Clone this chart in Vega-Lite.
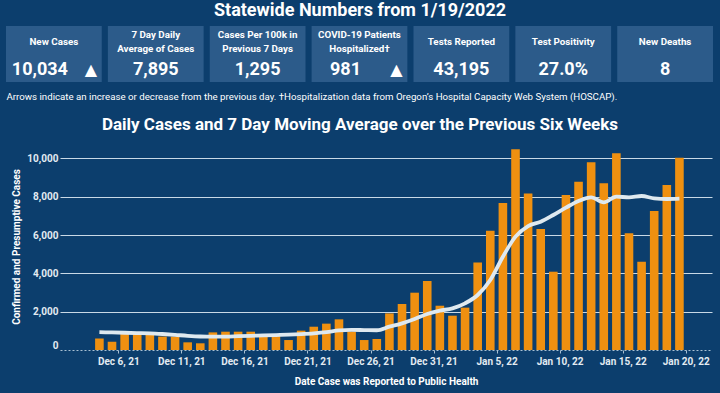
{
  "$schema": "https://vega.github.io/schema/vega-lite/v6.json",
  "background": "#0c3e6d",
  "padding": {"left": 6, "top": 2, "right": 4, "bottom": 8},
  "spacing": 15,
  "config": {
    "view": {"stroke": null},
    "font": "Roboto, sans-serif",
    "title": {"color": "#ffffff", "fontWeight": "bold"}
  },
  "vconcat": [
    {
      "width": 600,
      "height": 56,
      "title": {"text": "Statewide Numbers from 1/19/2022", "fontSize": 18, "frame": "group", "anchor": "middle", "offset": 6},
      "data": {
        "values": [
          {"tile": "New Cases", "value": "10,034", "arrow": "▲"},
          {"tile": "7 Day Daily\nAverage of Cases", "value": "7,895", "arrow": ""},
          {"tile": "Cases Per 100k in\nPrevious 7 Days", "value": "1,295", "arrow": ""},
          {"tile": "COVID-19 Patients\nHospitalized†", "value": "981", "arrow": "▲"},
          {"tile": "Tests Reported", "value": "43,195", "arrow": ""},
          {"tile": "Test Positivity", "value": "27.0%", "arrow": ""},
          {"tile": "New Deaths", "value": "8", "arrow": ""}
        ]
      },
      "encoding": {
        "x": {
          "field": "tile", "type": "nominal", "sort": null,
          "scale": {"range": [-54, 653], "paddingInner": 0.06, "paddingOuter": 0},
          "axis": {
            "title": "Arrows indicate an increase or decrease from the previous day. †Hospitalization data from Oregon’s Hospital Capacity Web System (HOSCAP).",
            "labels": false, "ticks": false, "domain": false,
            "titleAnchor": "start", "titleAlign": "left",
            "titleFontSize": 9.7, "titleFontWeight": "normal", "titleColor": "#ffffff", "titlePadding": 9
          }
        }
      },
      "layer": [
        {"mark": {"type": "rect", "color": "#2c5b8a"}},
        {
          "transform": [{"filter": "indexof(datum.tile, '\\n') < 0"}],
          "mark": {"type": "text", "color": "#ffffff", "fontWeight": "bold", "fontSize": 9.8, "dy": -12, "baseline": "middle"},
          "encoding": {"text": {"field": "tile"}}
        },
        {
          "transform": [{"filter": "indexof(datum.tile, '\\n') >= 0"}],
          "mark": {"type": "text", "color": "#ffffff", "fontWeight": "bold", "fontSize": 9.8, "dy": -19, "lineBreak": "\n", "lineHeight": 13.7, "baseline": "middle"},
          "encoding": {"text": {"field": "tile"}}
        },
        {
          "transform": [{"filter": "datum.arrow == ''"}],
          "mark": {"type": "text", "color": "#ffffff", "fontWeight": "bold", "fontSize": 18, "dy": 16, "baseline": "middle"},
          "encoding": {"text": {"field": "value"}}
        },
        {
          "transform": [{"filter": "datum.arrow != ''"}],
          "mark": {"type": "text", "color": "#ffffff", "fontWeight": "bold", "fontSize": 18, "dy": 16, "dx": -14, "baseline": "middle"},
          "encoding": {"text": {"field": "value"}}
        },
        {
          "transform": [{"filter": "datum.arrow != ''"}],
          "mark": {"type": "text", "color": "#ffffff", "font": "DejaVu Sans", "fontSize": 16, "dy": 16, "dx": 37, "baseline": "middle"},
          "encoding": {"text": {"field": "arrow"}}
        }
      ]
    },
    {
      "width": 652,
      "height": 207,
      "title": {"text": "Daily Cases and 7 Day Moving Average over the Previous Six Weeks", "fontSize": 17, "dx": -26, "offset": 9},
      "data": {
        "values": [
          {"date": "2021-12-04", "cases": 600, "avg": 930},
          {"date": "2021-12-05", "cases": 430, "avg": 915},
          {"date": "2021-12-06", "cases": 870, "avg": 900},
          {"date": "2021-12-07", "cases": 870, "avg": 885},
          {"date": "2021-12-08", "cases": 870, "avg": 870},
          {"date": "2021-12-09", "cases": 700, "avg": 835},
          {"date": "2021-12-10", "cases": 700, "avg": 790},
          {"date": "2021-12-11", "cases": 400, "avg": 740},
          {"date": "2021-12-12", "cases": 350, "avg": 705},
          {"date": "2021-12-13", "cases": 920, "avg": 695},
          {"date": "2021-12-14", "cases": 955, "avg": 700},
          {"date": "2021-12-15", "cases": 955, "avg": 720},
          {"date": "2021-12-16", "cases": 955, "avg": 740},
          {"date": "2021-12-17", "cases": 730, "avg": 760},
          {"date": "2021-12-18", "cases": 730, "avg": 780},
          {"date": "2021-12-19", "cases": 520, "avg": 800},
          {"date": "2021-12-20", "cases": 1010, "avg": 830},
          {"date": "2021-12-21", "cases": 1215, "avg": 870},
          {"date": "2021-12-22", "cases": 1375, "avg": 930},
          {"date": "2021-12-23", "cases": 1600, "avg": 1020},
          {"date": "2021-12-24", "cases": 960, "avg": 1050},
          {"date": "2021-12-25", "cases": 520, "avg": 1040},
          {"date": "2021-12-26", "cases": 575, "avg": 1030},
          {"date": "2021-12-27", "cases": 1910, "avg": 1217},
          {"date": "2021-12-28", "cases": 2400, "avg": 1391},
          {"date": "2021-12-29", "cases": 2990, "avg": 1617},
          {"date": "2021-12-30", "cases": 3600, "avg": 1878},
          {"date": "2021-12-31", "cases": 2310, "avg": 2052},
          {"date": "2022-01-01", "cases": 1790, "avg": 2174},
          {"date": "2022-01-02", "cases": 2210, "avg": 2435},
          {"date": "2022-01-03", "cases": 4560, "avg": 2869},
          {"date": "2022-01-04", "cases": 6225, "avg": 3652},
          {"date": "2022-01-05", "cases": 7670, "avg": 4869},
          {"date": "2022-01-06", "cases": 10480, "avg": 5913},
          {"date": "2022-01-07", "cases": 8170, "avg": 6469},
          {"date": "2022-01-08", "cases": 6310, "avg": 6695},
          {"date": "2022-01-09", "cases": 4085, "avg": 7043},
          {"date": "2022-01-10", "cases": 8085, "avg": 7426},
          {"date": "2022-01-11", "cases": 8780, "avg": 7773},
          {"date": "2022-01-12", "cases": 9790, "avg": 7965},
          {"date": "2022-01-13", "cases": 8695, "avg": 7704},
          {"date": "2022-01-14", "cases": 10260, "avg": 8000},
          {"date": "2022-01-15", "cases": 6085, "avg": 7965},
          {"date": "2022-01-16", "cases": 4605, "avg": 8034},
          {"date": "2022-01-17", "cases": 7250, "avg": 7912},
          {"date": "2022-01-18", "cases": 8610, "avg": 7878},
          {"date": "2022-01-19", "cases": 10034, "avg": 7895}
        ]
      },
      "layer": [
        {
          "mark": {"type": "bar", "color": "#ef9010", "width": 8.6},
          "encoding": {
            "x": {
              "field": "date", "type": "temporal", "timeUnit": "utcyearmonthdate", "bandPosition": 0.5,
              "scale": {"type": "utc", "domain": [
                {"year": 2021, "month": 12, "date": 1, "hours": 9, "utc": true},
                {"year": 2022, "month": 1, "date": 22, "hours": 2, "utc": true}
              ]},
              "axis": {
                "values": [
                  {"year": 2021, "month": 12, "date": 6, "utc": true},
                  {"year": 2021, "month": 12, "date": 11, "utc": true},
                  {"year": 2021, "month": 12, "date": 16, "utc": true},
                  {"year": 2021, "month": 12, "date": 21, "utc": true},
                  {"year": 2021, "month": 12, "date": 26, "utc": true},
                  {"year": 2021, "month": 12, "date": 31, "utc": true},
                  {"year": 2022, "month": 1, "date": 5, "utc": true},
                  {"year": 2022, "month": 1, "date": 10, "utc": true},
                  {"year": 2022, "month": 1, "date": 15, "utc": true},
                  {"year": 2022, "month": 1, "date": 20, "utc": true}
                ],
                "format": "%b %-d, %y",
                "title": "Date Case was Reported to Public Health",
                "grid": false, "labelFlush": false,
                "labelColor": "#e3ebf2", "labelFontSize": 10, "labelFontWeight": "bold", "labelPadding": 3,
                "tickColor": "#a9c0d3", "tickSize": 3,
                "domainColor": "#a9c0d3", "domainDash": [2, 2],
                "titleColor": "#ffffff", "titleFontSize": 10, "titleFontWeight": "bold", "titlePadding": 10
              }
            },
            "y": {
              "field": "cases", "type": "quantitative",
              "scale": {"domain": [0, 10800], "nice": false},
              "axis": {
                "title": "Confirmed and Presumptive Cases",
                "values": [0, 2000, 4000, 6000, 8000, 10000],
                "format": ",.0f",
                "ticks": false, "domain": false, "labelFlush": true,
                "labelColor": "#e3ebf2", "labelFontSize": 10, "labelFontWeight": "bold", "labelPadding": 2,
                "grid": true, "gridColor": "#c9d9e6", "gridWidth": 1.2,
                "gridOpacity": {"condition": {"test": "datum.value === 0", "value": 0}, "value": 1},
                "titleColor": "#ffffff", "titleFontSize": 10, "titleFontWeight": "bold", "titlePadding": 5
              }
            }
          }
        },
        {
          "mark": {"type": "line", "color": "#dfe9ef", "strokeWidth": 3.8, "interpolate": "monotone"},
          "encoding": {
            "x": {"field": "date", "type": "temporal", "timeUnit": "utcyearmonthdate", "bandPosition": 0.5},
            "y": {"field": "avg", "type": "quantitative"}
          }
        }
      ]
    }
  ]
}
